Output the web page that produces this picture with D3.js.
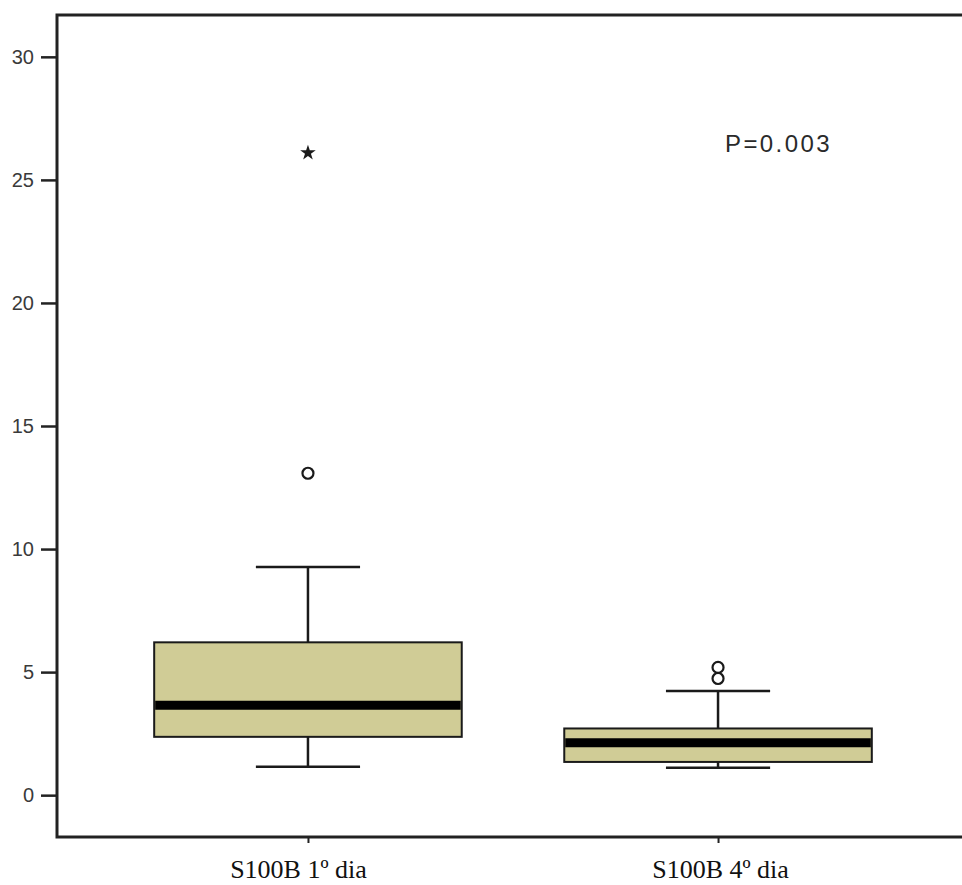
<!DOCTYPE html>
<html>
<head>
<meta charset="utf-8">
<script src="https://cdn.jsdelivr.net/npm/d3@7"></script>
<style>
  body { margin: 0; background: #fff; }
</style>
</head>
<body>
<div id="chart"></div>
<script>
// box plot data
const categories = ["S100B 1º dia", "S100B 4º dia"];
const whiskerLow = [1.15, 1.11];
const q1 = [2.37, 1.35];
const median = [3.65, 2.13];
const q3 = [6.21, 2.71];
const whiskerHigh = [9.27, 4.23];
const outliers = [[13.08], [5.19, 4.74]];
const extremes = [[26.1], []];
const yTicks = [0, 5, 10, 15, 20, 25, 30];
const pLabel = "P=0.003";

var width = 962, height = 885;
var plotLeft = 57, plotTop = 15, plotBottom = 837;

var svg = d3.select("#chart").append("svg")
  .attr("width", width)
  .attr("height", height);

var y = d3.scaleLinear().domain([-1.7, 31.7]).range([plotBottom, plotTop]);
var x = d3.scalePoint().domain(categories).range([plotLeft, 969]).padding(0.612);
var step = x.step();
var boxW = step * 0.75;
var capW = step * 0.254;

const ink = "#1a1a1a";

// frame (right edge falls outside the window)
svg.append("rect")
  .attr("x", plotLeft).attr("y", plotTop)
  .attr("width", width - plotLeft + 10).attr("height", plotBottom - plotTop)
  .attr("fill", "none").attr("stroke", "#222").attr("stroke-width", 3);

// y axis
var yAxis = svg.append("g")
  .attr("transform", "translate(" + plotLeft + ",0)")
  .call(d3.axisLeft(y).tickValues(yTicks).tickSize(16).tickPadding(7));
yAxis.select(".domain").remove();
yAxis.selectAll("line").attr("stroke", "#222").attr("stroke-width", 2.5);
yAxis.selectAll("text")
  .style("font-family", "Arial, 'Liberation Sans', sans-serif")
  .style("font-size", "20px")
  .attr("fill", "#3a3a3a");

// x axis
var xAxis = svg.append("g")
  .attr("transform", "translate(0," + plotBottom + ")")
  .call(d3.axisBottom(x).tickSize(6).tickPadding(16.5));
xAxis.select(".domain").remove();
xAxis.selectAll("line").attr("stroke", "#222").attr("stroke-width", 2);
xAxis.selectAll("text")
  .style("font-family", "'Times New Roman', 'Liberation Serif', serif")
  .style("font-size", "26px")
  .attr("fill", "#111")
  .attr("dx", (d, i) => i === 0 ? -10 : 2);

var boxes = categories.map((c, i) => ({
  cat: c, lo: whiskerLow[i], q1: q1[i], med: median[i], q3: q3[i], hi: whiskerHigh[i],
  out: outliers[i], ext: extremes[i]
}));

var g = svg.selectAll("g.box").data(boxes).enter().append("g").attr("class", "box");

// whisker stems
g.append("line")
  .attr("x1", d => x(d.cat)).attr("x2", d => x(d.cat))
  .attr("y1", d => y(d.hi)).attr("y2", d => y(d.q3))
  .attr("stroke", ink).attr("stroke-width", 2.5);
g.append("line")
  .attr("x1", d => x(d.cat)).attr("x2", d => x(d.cat))
  .attr("y1", d => y(d.q1)).attr("y2", d => y(d.lo))
  .attr("stroke", ink).attr("stroke-width", 2.5);

// caps
g.selectAll("line.cap")
  .data(d => [{ cat: d.cat, v: d.hi }, { cat: d.cat, v: d.lo }])
  .enter().append("line").attr("class", "cap")
  .attr("x1", d => x(d.cat) - capW / 2).attr("x2", d => x(d.cat) + capW / 2)
  .attr("y1", d => y(d.v)).attr("y2", d => y(d.v))
  .attr("stroke", ink).attr("stroke-width", 2.5);

// box
g.append("rect")
  .attr("x", d => x(d.cat) - boxW / 2)
  .attr("y", d => y(d.q3))
  .attr("width", boxW)
  .attr("height", d => y(d.q1) - y(d.q3))
  .attr("fill", "#d0cc96")
  .attr("stroke", ink).attr("stroke-width", 2);

// median
g.append("line")
  .attr("x1", d => x(d.cat) - boxW / 2 + 1).attr("x2", d => x(d.cat) + boxW / 2 - 1)
  .attr("y1", d => y(d.med)).attr("y2", d => y(d.med))
  .attr("stroke", "#000").attr("stroke-width", 9);

// outliers (circles)
g.selectAll("circle.out")
  .data(d => d.out.map(v => ({ cat: d.cat, v: v })))
  .enter().append("circle").attr("class", "out")
  .attr("cx", d => x(d.cat)).attr("cy", d => y(d.v))
  .attr("r", 5.5)
  .attr("fill", "#fff").attr("stroke", ink).attr("stroke-width", 2.2);

// extremes (stars)
g.selectAll("path.ext")
  .data(d => d.ext.map(v => ({ cat: d.cat, v: v })))
  .enter().append("path").attr("class", "ext")
  .attr("d", d3.symbol(d3.symbolStar).size(75))
  .attr("transform", d => "translate(" + x(d.cat) + "," + y(d.v) + ")")
  .attr("fill", ink);

// p-value annotation
svg.append("text")
  .attr("x", 725).attr("y", 152)
  .style("font-family", "Arial, 'Liberation Sans', sans-serif")
  .style("font-size", "24px")
  .style("letter-spacing", "2.4px")
  .attr("fill", "#2a2a2a")
  .text(pLabel);
</script>
</body>
</html>
